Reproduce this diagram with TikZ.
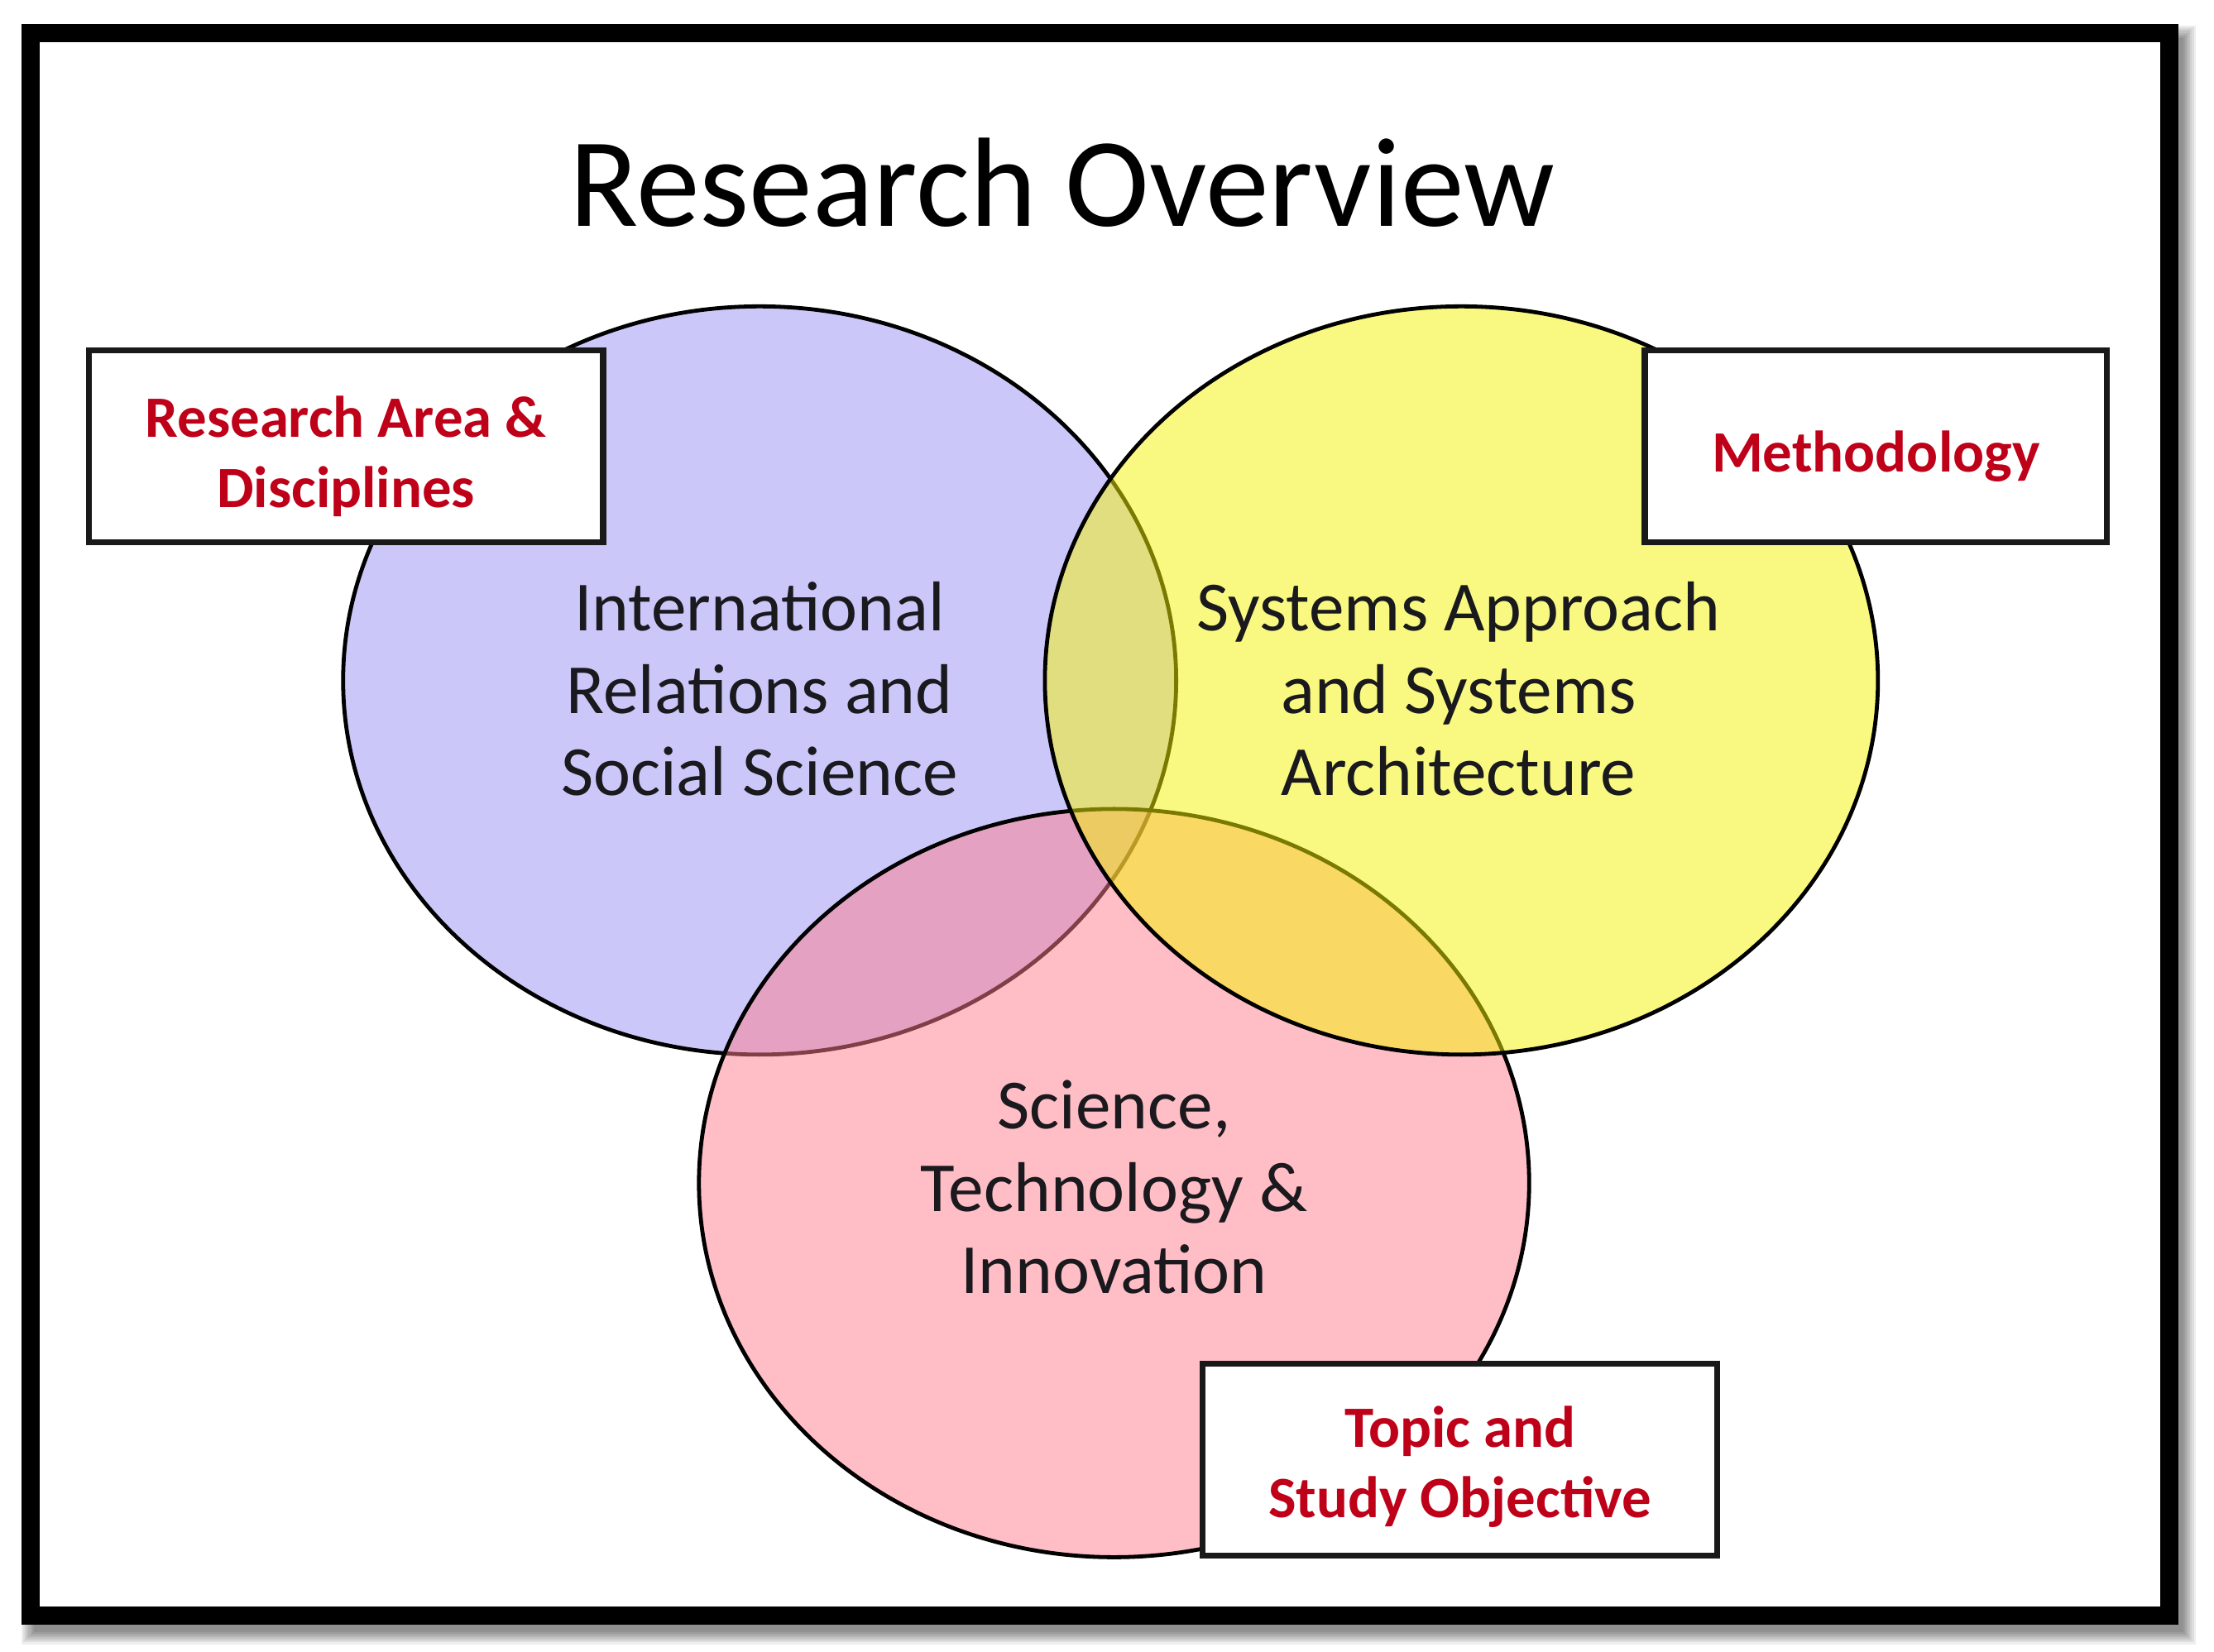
\documentclass[tikz,border=0pt]{standalone}
\usepackage{fontspec}
\setmainfont{Carlito}
\definecolor{vblue}{RGB}{153,145,245}
\definecolor{vpink}{RGB}{255,125,140}
\definecolor{vyellow}{RGB}{245,245,5}
\definecolor{tagred}{RGB}{190,0,25}
\definecolor{lbltext}{RGB}{25,25,30}
\begin{document}
\begin{tikzpicture}[x=0.01cm,y=-0.01cm,
  venn/.style={draw=black, line width=0.8pt, fill opacity=0.5},
  lbl/.style={align=center, inner sep=0pt, text=lbltext,
    font=\fontsize{14.2}{16.6}\selectfont},
  tag/.style={draw=black!90, line width=1.2pt, fill=white, inner sep=0pt,
    minimum height=1.36cm},
  tagtext/.style={align=center, inner sep=0pt, text=tagred,
    font=\fontsize{11.8}{14.2}\selectfont\bfseries},
  frameline/.style={line width=0.129cm, draw=black}
]
\useasboundingbox (0,0) rectangle (1568,1170);
\fill[white] (0,0) rectangle (1568,1170);
% shadow of the frame
\foreach \w in {0.27cm,0.245cm,0.22cm,0.195cm,0.17cm,0.145cm,0.12cm,0.095cm}
  \draw[line width=\w, black, opacity=0.065] (28.7,31.7) rectangle (1541.4,1151.1);
\fill[white] (21.7,23.7) rectangle (1536.4,1144.1);
\draw[frameline] (21.7,23.7) rectangle (1536.4,1144.1);

% title
\node[anchor=base, inner sep=0pt, font=\fontsize{25.6}{30}\selectfont] (title) at (752,160) {Research Overview};

% circles
\filldraw[venn, fill=vblue] (538,482) ellipse [x radius=295, y radius=265];
\filldraw[venn, fill=vpink] (789,838) ellipse [x radius=294, y radius=265];
\filldraw[venn, fill=vyellow] (1035,482) ellipse [x radius=295, y radius=265];

% circle labels
\node[lbl] (irss) at (538,488) {International\\Relations and\\Social Science};
\node[lbl] (sys) at (1033,488) {Systems Approach\\and Systems\\Architecture};
\node[lbl] (sti) at (789,841) {Science,\\Technology \&\\Innovation};

% tags
\node[tag, minimum width=3.64cm] (area) at (245,316) {};
\node[tagtext] (areatext) at ([yshift=-0.075cm]area.center) {Research Area \&\\Disciplines};
\node[tag, minimum width=3.27cm] (meth) at (1328.5,316) {};
\node[tagtext] (methtext) at ([yshift=-0.075cm]meth.center) {Methodology};
\node[tag, minimum width=3.64cm] (topic) at (1034,1034) {};
\node[tagtext] (topictext) at ([yshift=-0.05cm]topic.center) {Topic and\\Study Objective};
\end{tikzpicture}
\end{document}
